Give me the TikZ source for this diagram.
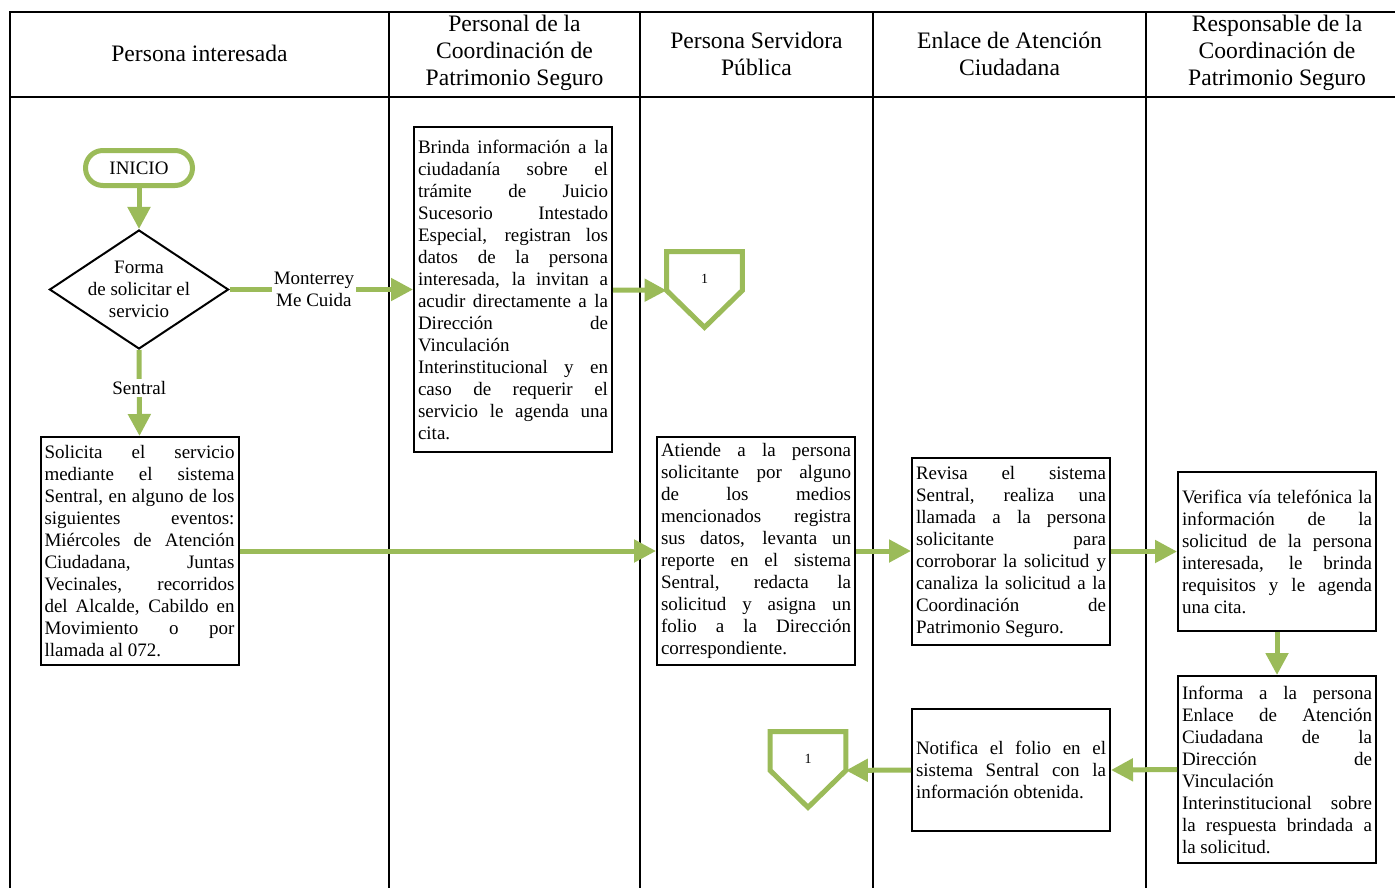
\documentclass[tikz,border=0pt]{standalone}
\usepackage{fontspec}
\setmainfont{Liberation Serif}
\usetikzlibrary{arrows.meta}
\usetikzlibrary{shapes.geometric}

\definecolor{verde}{RGB}{155,187,89}

\tikzset{
  encabezado/.style={align=center, font=\fontsize{11.8}{13.5}\selectfont},
  proceso/.style={draw, line width=1pt, text width=95pt, inner xsep=2pt, inner ysep=2pt,
    align=justify, font=\fontsize{9.5}{11}\selectfont},
  inicio/.style={draw=verde, line width=2.5pt, rounded corners=8.7pt, minimum width=53.5pt,
    minimum height=17.5pt, font=\fontsize{9.5}{11}\selectfont},
  decision/.style={diamond, draw, line width=1pt, inner sep=-5pt, minimum width=89.5pt,
    minimum height=59.5pt, align=center, font=\fontsize{9.5}{11}\selectfont},
  flujo/.style={draw=verde, line width=2.5pt, -{Triangle[length=11pt,width=11pt]}},
  etiqueta/.style={fill=white, align=center, inner sep=1pt, font=\fontsize{9.5}{11}\selectfont},
  conector/.style={minimum width=37.5pt, minimum height=27pt, inner sep=0pt,
    font=\fontsize{7}{8}\selectfont},
  pagina/.style={draw=verde, line width=2.5pt, line join=miter},
}

\begin{document}
\begin{tikzpicture}[x=0.5pt, y=-0.5pt]
	\useasboundingbox (0,0) rectangle (1395,888);

	% carriles
	\draw[line width=1pt] (1395,12) -- (10,12) -- (10,888);
	\draw[line width=1pt] (10,97) -- (1395,97);
	\foreach \x in {389,640,873,1146}
		\draw[line width=1pt] (\x,12) -- (\x,888);

	\node[encabezado] (carril1) at (199.5,53) {Persona interesada};
	\node[encabezado] (carril2) at (514.5,53) {Personal de la\\Coordinación de\\Patrimonio Seguro};
	\node[encabezado] (carril3) at (756.5,54) {Persona Servidora\\Pública};
	\node[encabezado] (carril4) at (1009.5,54) {Enlace de Atención\\Ciudadana};
	\node[encabezado] (carril5) at (1277,53) {Responsable de la\\Coordinación de\\Patrimonio Seguro};

	% actividades
	\node[inicio] (inicio) at (139,168) {INICIO};
	\node[decision] (forma) at (139,289.5) {Forma\\de solicitar el\\servicio};
	\node[proceso, minimum height=162.5pt] (brinda) at (513,289.5) {Brinda información a la\linebreak
		ciudadanía sobre el\linebreak trámite de Juicio\linebreak Sucesorio Intestado\linebreak
		Especial, registran los\linebreak datos de la persona\linebreak interesada, la invitan a\linebreak
		acudir directamente a la\linebreak Dirección de\linebreak Vinculación\linebreak
		Interinstitucional y en\linebreak caso de requerir el\linebreak servicio le agenda una\linebreak cita.};
	\node[proceso, minimum height=114pt] (solicita) at (139.5,551) {Solicita el servicio\linebreak mediante el sistema\linebreak
		Sentral, en alguno de los\linebreak siguientes eventos:\linebreak Miércoles de Atención\linebreak
		Ciudadana, Juntas\linebreak Vecinales, recorridos\linebreak del Alcalde, Cabildo en\linebreak
		Movimiento o por\linebreak llamada al 072.};
	\node[proceso, minimum height=114pt] (atiende) at (756,551) {Atiende a la persona\linebreak solicitante por alguno\linebreak
		de los medios\linebreak mencionados registra\linebreak sus datos, levanta un\linebreak
		reporte en el sistema\linebreak Sentral, redacta la\linebreak solicitud y asigna un\linebreak
		folio a la Dirección\linebreak correspondiente.};
	\node[proceso, minimum height=93.5pt] (revisa) at (1011,551.5) {Revisa el sistema\linebreak
		Sentral, realiza una\linebreak llamada a la persona\linebreak solicitante para\linebreak
		corroborar la solicitud y\linebreak canaliza la solicitud a la\linebreak Coordinación de\linebreak
		Patrimonio Seguro.};
	\node[proceso, minimum height=79.5pt] (verifica) at (1277,551.5) {Verifica vía telefónica la\linebreak
		información de la\linebreak solicitud de la persona\linebreak interesada, le brinda\linebreak
		requisitos y le agenda\linebreak una cita.};
	\node[proceso, minimum height=93.5pt] (informa) at (1277,769.5) {Informa a la persona\linebreak
		Enlace de Atención\linebreak Ciudadana de la\linebreak Dirección de\linebreak Vinculación\linebreak
		Interinstitucional sobre\linebreak la respuesta brindada a\linebreak la solicitud.};
	\node[proceso, minimum height=61pt] (notifica) at (1011,770) {Notifica el folio en el\linebreak
		sistema Sentral con la\linebreak información obtenida.};

	% conectores de pagina
	\node[conector] (pagina1) at (704.5,279) {1};
	\node[conector] (pagina2) at (808,759) {1};
	\draw[pagina] (pagina1.north west) -- (pagina1.north east) -- ([yshift=8pt]pagina1.south east)
		-- ([yshift=-10.5pt]pagina1.south) -- ([yshift=8pt]pagina1.south west) -- cycle;
	\draw[pagina] (pagina2.north west) -- (pagina2.north east) -- ([yshift=8pt]pagina2.south east)
		-- ([yshift=-10.5pt]pagina2.south) -- ([yshift=8pt]pagina2.south west) -- cycle;

	% flujo
	\draw[flujo] (inicio) -- (forma);
	\draw[flujo] (forma.east) -- node[etiqueta, pos=0.46] {Monterrey\\Me Cuida} (brinda.west);
	\draw[flujo] (forma.south) -- node[etiqueta, pos=0.44] {Sentral} (solicita.north);
	\draw[flujo] (brinda.east |- 0,290) -- ([yshift=8pt]pagina1.south west);
	\draw[flujo] (solicita.east) -- (atiende.west);
	\draw[flujo] (atiende.east) -- (revisa.west |- atiende.east);
	\draw[flujo] (revisa.east) -- (verifica.west);
	\draw[flujo] (verifica.south) -- (informa.north);
	\draw[flujo] (informa.west) -- (notifica.east);
	\draw[flujo] (notifica.west) -- ([yshift=8pt]pagina2.south east);
\end{tikzpicture}
\end{document}
